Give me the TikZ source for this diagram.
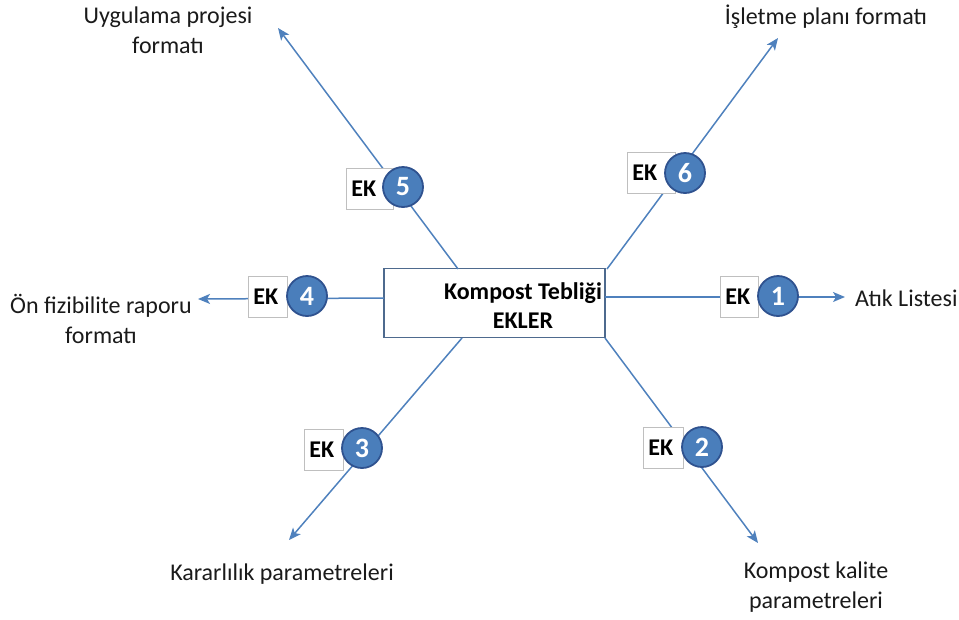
\documentclass[tikz,border=0pt]{standalone}
\usepackage{fontspec}
\setmainfont{Carlito}
\usetikzlibrary{arrows.meta}
\definecolor{linkblue}{HTML}{4F81BD}
\definecolor{discfill}{HTML}{4A7EBB}
\definecolor{discedge}{HTML}{2F528F}
\definecolor{hubedge}{HTML}{4E6A8E}
\definecolor{ekedge}{HTML}{BFBFBF}
\definecolor{labeltext}{HTML}{1A1A1A}
\tikzset{
  link/.style={draw=linkblue, line width=1.5pt},
  linkarrow/.style={link, -{Stealth[length=12pt,width=10pt,inset=3pt]}},
  hub/.style={draw=hubedge, line width=1.6pt, fill=white, minimum width=221pt, minimum height=69pt, inner sep=0pt},
  hubtext/.style={font=\fontsize{24}{29}\selectfont\bfseries, align=center, text=black},
  ekbox/.style={draw=ekedge, line width=0.8pt, fill=white, anchor=west, minimum height=41pt,
    inner xsep=5pt, inner ysep=0pt, align=left, font=\fontsize{24}{26}\selectfont\bfseries, text=black},
  disc/.style={circle, draw=discedge, line width=1.8pt, fill=discfill, minimum size=40pt, inner sep=0pt,
    text=white, font=\fontsize{28}{28}\selectfont\bfseries},
  caption/.style={font=\fontsize{24}{30}\selectfont, align=center, text=labeltext, inner sep=0pt}
}
\begin{document}
\begin{tikzpicture}[x=1pt, y=-1pt]
\useasboundingbox (0,0) rectangle (959,619);

% central box
\node[hub] (hub) at (494.5,303) {};

% start points on the box and free ends of the arrows
\coordinate (s1) at (605,297);
\coordinate (s2) at (605,338);
\coordinate (s3) at (462,338);
\coordinate (s4) at (384,298);
\coordinate (s5) at (458,269);
\coordinate (s6) at (607,269);
\coordinate (t1) at (845,297);
\coordinate (t2) at (758,543);
\coordinate (t3) at (289,540);
\coordinate (t4) at (198,299);
\coordinate (t5) at (278,28);
\coordinate (t6) at (778,38);

\draw[linkarrow] (s1) -- (t1);
\draw[linkarrow] (s2) -- (t2);
\draw[linkarrow] (s3) -- (t3);
\draw[linkarrow] (s4) -- (t4);
\draw[linkarrow] (s5) -- (t5);
\draw[linkarrow] (s6) -- (t6);

\node[hubtext] (hublabel) at (523,306) {Kompost Tebliği\\EKLER};

% EK tags
\node[ekbox, text width=28pt] (ek1) at (720,297) {EK};
\node[ekbox, text width=30pt] (ek2) at (643,448) {EK};
\node[ekbox, text width=29pt] (ek3) at (304,450) {EK};
\node[ekbox, text width=29pt] (ek4) at (248,297) {EK};
\node[ekbox, text width=37pt] (ek5) at (346,189) {EK};
\node[ekbox, text width=38pt] (ek6) at (627,173) {EK};

% numbered discs
\node[disc] (n1) at (778,296) {1};
\node[disc] (n2) at (702,447) {2};
\node[disc] (n3) at (362,448) {3};
\node[disc] (n4) at (307,296) {4};
\node[disc] (n5) at (403,187) {5};
\node[disc] (n6) at (685,173) {6};

% captions
\node[caption, anchor=west] (c1) at (855,298) {Atık Listesi};
\node[caption] (c2) at (816,587) {Kompost kalite\\parametreleri};
\node[caption] (c3) at (282,574) {Kararlılık parametreleri};
\node[caption] (c4) at (101,319) {Ön fizibilite raporu\\formatı};
\node[caption] (c5) at (168,30) {Uygulama projesi\\formatı};
\node[caption] (c6) at (826,17) {İşletme planı formatı};
\end{tikzpicture}
\end{document}
